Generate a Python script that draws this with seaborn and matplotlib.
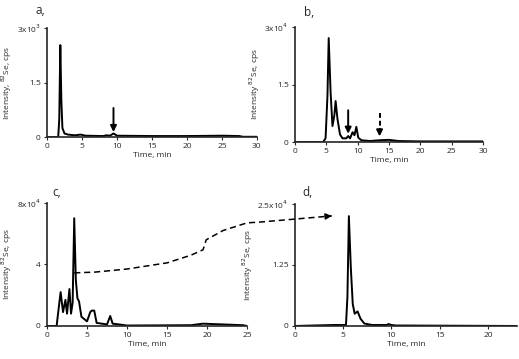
import matplotlib
matplotlib.use("Agg")
import matplotlib.pyplot as plt
import seaborn as sns
import pandas as pd

# ---------------------------------- DATA ----------------------------------
# a, : time (min) / intensity (x10^3 cps)
a_time = [0, 1.6, 1.75, 1.9, 2.05, 2.2, 2.5, 3.0, 4.0, 4.8, 5.5, 8.0, 8.5, 9.0,
          9.5, 10.0, 15.0, 20.0, 25.0, 27.5, 28.0, 30.0]
a_int = [0, 0, 0.5, 2.53, 1.0, 0.25, 0.1, 0.07, 0.05, 0.07, 0.04, 0.03, 0.05, 0.04,
         0.1, 0.04, 0.03, 0.03, 0.04, 0.03, 0.01, 0.01]

# b, : time (min) / intensity (x10^4 cps)
b_time = [0, 4.5, 4.9, 5.2, 5.4, 5.7, 6.0, 6.3, 6.5, 6.8, 7.2, 7.6, 8.2, 8.5, 8.8,
          9.2, 9.5, 9.8, 10.1, 10.6, 12.0, 13.5, 15.0, 16.5, 20.0, 30.0]
b_int = [0, 0, 0.1, 1.2, 2.71, 1.3, 0.42, 0.7, 1.07, 0.6, 0.2, 0.1, 0.1, 0.16, 0.1,
         0.26, 0.18, 0.4, 0.12, 0.05, 0.03, 0.05, 0.06, 0.03, 0.02, 0.02]

# c, : time (min) / intensity (x10^4 cps)
c_time = [0, 1.2, 1.4, 1.7, 2.0, 2.3, 2.5, 2.8, 3.0, 3.2, 3.4, 3.6, 3.8, 4.0, 4.3,
          5.0, 5.4, 5.6, 5.9, 6.2, 7.5, 7.9, 8.2, 9.0, 10.0, 18.0, 19.5, 22.0,
          24.5, 25.0]
c_int = [0, 0, 0.9, 2.2, 0.9, 1.7, 0.8, 2.4, 0.8, 1.5, 7.0, 3.0, 1.8, 1.6, 0.6,
         0.3, 0.9, 1.0, 1.0, 0.2, 0.1, 0.65, 0.15, 0.1, 0.03, 0.05, 0.15, 0.1,
         0.05, 0]

# dashed gradient curve drawn on c, and carried over to d,
grad_time = [3.4, 6.0, 10.0, 15.0, 18.0, 19.5, 19.9, 22.0, 25.0, 26.6, 35.6]
grad_val = [3.45, 3.5, 3.7, 4.1, 4.6, 4.95, 5.6, 6.2, 6.7, 6.75, 7.15]

# d, : time (min) / intensity (x10^4 cps)
d_time = [0, 4.0, 5.3, 5.45, 5.6, 5.8, 6.0, 6.2, 6.5, 6.8, 7.2, 8.0, 9.5, 9.7,
          10.0, 10.5, 23.0]
d_int = [0, 0.02, 0.02, 0.6, 2.25, 1.2, 0.45, 0.25, 0.3, 0.15, 0.05, 0.02, 0.02,
         0.04, 0.02, 0.01, 0.0]

panels = [
    # label, time, intensity, xlim, xticks, yticks, yticklabels, ylabel, rect
    ("a,", a_time, a_int, 30, [0, 5, 10, 15, 20, 25, 30], [0, 1.5, 3],
     ["0", "1.5", "3x10$^3$"], "Intensity, $^{82}$Se, cps",
     [0.0906, 0.618, 0.4044, 0.304]),
    ("b,", b_time, b_int, 30, [0, 5, 10, 15, 20, 25, 30], [0, 1.5, 3],
     ["0", "1.5", "3x10$^4$"], "Intensity $^{82}$Se, cps",
     [0.568, 0.604, 0.363, 0.321]),
    ("c,", c_time, c_int, 25, [0, 5, 10, 15, 20, 25], [0, 4, 8],
     ["0", "4", "8x10$^4$"], "Intensity $^{82}$Se, cps",
     [0.0906, 0.092, 0.3854, 0.343]),
    ("d,", d_time, d_int, 23, [0, 5, 10, 15, 20], [0, 1.25, 2.5],
     ["0", "1.25", "2.5x10$^4$"], "Intensity $^{82}$Se, cps",
     [0.568, 0.092, 0.428, 0.34]),
]

# ---------------------------------- PLOT ----------------------------------
sns.set_style("ticks")
plt.rcParams['font.family'] = ['Open Sans', 'DejaVu Sans']
plt.rcParams['mathtext.fontset'] = 'dejavusans'

fig = plt.figure(figsize=(5.19, 3.59), dpi=100)
axes = {}
for label, t, y, xmax, xt, yt, ytl, ylab, rect in panels:
    ax = fig.add_axes(rect)
    ax.patch.set_alpha(0)
    df = pd.DataFrame({"time": t, "intensity": y})
    sns.lineplot(data=df, x="time", y="intensity", ax=ax, color="black",
                 linewidth=1.4, estimator=None, sort=False)
    ax.set_xlim(0, xmax)
    ax.set_ylim(0, yt[-1])
    ax.set_xticks(xt)
    ax.set_yticks(yt)
    ax.set_yticklabels(ytl)
    ax.tick_params(labelsize=6, length=2.5, width=0.8, pad=2)
    ax.set_xlabel("Time, min", fontsize=6, labelpad=1)
    ax.set_ylabel(ylab, fontsize=6, labelpad=2)
    for s in ["left", "bottom"]:
        ax.spines[s].set_linewidth(1.2)
    sns.despine(ax=ax)
    axes[label] = ax

fig.text(0.069, 0.962, "a,", fontsize=8.5)
fig.text(0.585, 0.955, "b,", fontsize=8.5)
fig.text(0.100, 0.455, "c,", fontsize=8.5)
fig.text(0.583, 0.455, "d,", fontsize=8.5)

# arrows marking peaks
akw = dict(arrowstyle="-|>", color="black", lw=1.4, mutation_scale=9,
           shrinkA=0, shrinkB=0)
axes["a,"].annotate("", xy=(9.5, 0.14), xytext=(9.5, 0.8), arrowprops=akw)
axes["b,"].annotate("", xy=(8.5, 0.22), xytext=(8.5, 0.83), arrowprops=akw)
axes["b,"].plot([13.5, 13.5], [0.75, 0.35], color="black", lw=1.4,
                linestyle=(0, (2.5, 1.5)))
axes["b,"].annotate("", xy=(13.5, 0.15), xytext=(13.5, 0.35), arrowprops=akw)

# dashed curve from c, to d,
axc = axes["c,"]
axc.set_zorder(5)
axc.plot(grad_time, grad_val, color="black", lw=1.1,
         linestyle=(0, (4, 2.5)), clip_on=False)
axc.annotate("", xy=(grad_time[-1], grad_val[-1]),
             xytext=(grad_time[-1] - 0.5, grad_val[-1] - 0.02),
             arrowprops=dict(arrowstyle="-|>", color="black", lw=1.1,
                             mutation_scale=9, shrinkA=0, shrinkB=0),
             annotation_clip=False)

fig.savefig("out.png", dpi=100)
